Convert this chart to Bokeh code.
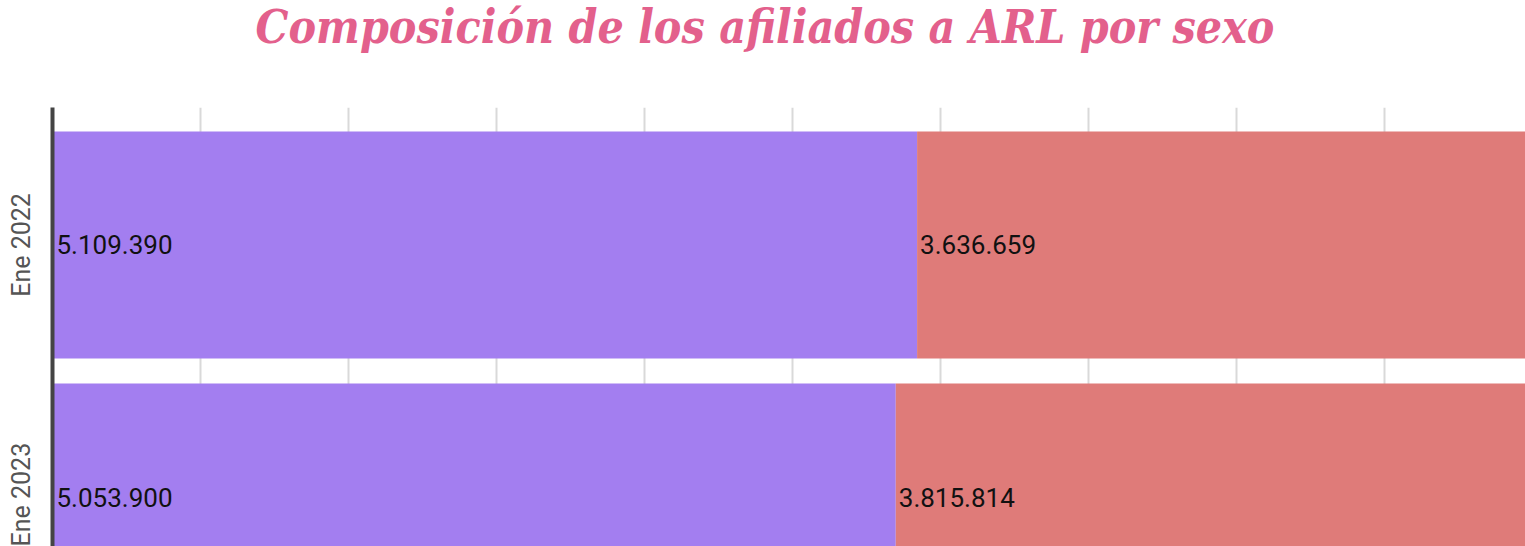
from bokeh.plotting import figure
from bokeh.models import Range1d, FixedTicker, ColumnDataSource, Div
from bokeh.layouts import column
from bokeh.core.properties import value
from bokeh.embed import file_html
from bokeh.resources import INLINE

# Data
title_text = "Composición de los afiliados a ARL por sexo"
categories = ["Ene 2022", "Ene 2023"]
hombres = [5109390, 5053900]
mujeres = [3636659, 3815814]
series_colors = ["#a37ef0", "#df7b79"]
x_ticks = [0.1, 0.2, 0.3, 0.4, 0.5, 0.6, 0.7, 0.8, 0.9, 1.0]

ypos = list(range(len(categories)))
totals = [h + m for h, m in zip(hombres, mujeres)]
h_frac = [h / t for h, t in zip(hombres, totals)]
m_frac = [m / t for m, t in zip(mujeres, totals)]

def fmt(v):
    return f"{v:,}".replace(",", ".")

src = ColumnDataSource(dict(
    y=ypos,
    h_left=[0.0] * len(ypos),
    h_right=h_frac,
    m_left=h_frac,
    m_right=[a + b for a, b in zip(h_frac, m_frac)],
    h_lab=[fmt(v) for v in hombres],
    m_lab=[fmt(v) for v in mujeres],
))

p = figure(
    width=1525, height=439,
    x_range=Range1d(0, 0.9953),
    y_range=Range1d(start=1.1964, end=-0.5456),
    x_axis_location=None, y_axis_location="left",
    output_backend="svg", toolbar_location=None,
    min_border_left=52, min_border_right=0, min_border_bottom=0, min_border_top=0,
)
p.outline_line_color = None
p.background_fill_color = "white"

p.hbar(y="y", left="h_left", right="h_right", height=0.9, source=src,
       fill_color=series_colors[0], line_color=None)
p.hbar(y="y", left="m_left", right="m_right", height=0.9, source=src,
       fill_color=series_colors[1], line_color=None)

p.text(x="h_left", y="y", text="h_lab", source=src, x_offset=4,
       text_baseline="middle", text_align="left",
       text_font=value("Roboto"), text_font_size="26px", text_color="#111111")
p.text(x="m_left", y="y", text="m_lab", source=src, x_offset=3,
       text_baseline="middle", text_align="left",
       text_font=value("Roboto"), text_font_size="26px", text_color="#111111")

p.xgrid.ticker = FixedTicker(ticks=x_ticks)
p.xgrid.grid_line_color = "#d9d9d9"
p.xgrid.grid_line_width = 2
p.ygrid.grid_line_color = None

ax = p.yaxis[0]
ax.ticker = FixedTicker(ticks=ypos)
ax.major_label_overrides = {i: c for i, c in zip(ypos, categories)}
ax.major_label_orientation = "vertical"
ax.major_label_text_font = "Roboto"
ax.major_label_text_font_size = "25px"
ax.major_label_text_color = "#555555"
ax.major_tick_line_color = None
ax.minor_tick_line_color = None
ax.major_tick_out = 0
ax.major_tick_in = 0
ax.major_label_standoff = 16
ax.axis_line_color = "#444444"
ax.axis_line_width = 4

title_div = Div(
    text=(
        '<div style="font-family: \'DejaVu Serif Condensed\', \'DejaVu Serif\', serif; '
        'font-weight: bold; font-style: italic; font-size: 46px; color: #e3608c; '
        'text-align: center; width: 1530px; line-height: 54px; margin: 0; padding: 0;">'
        + title_text + '</div>'
    ),
    width=1525, height=107, margin=(0, 0, 0, 0),
)

layout = column(title_div, p, spacing=0)
open("out.html", "w").write(file_html(layout, INLINE))
